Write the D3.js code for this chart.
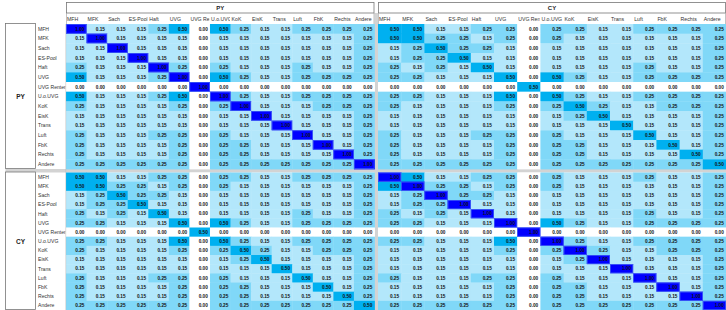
<!DOCTYPE html>
<html>
<head>
<meta charset="utf-8">
<script src="https://cdn.jsdelivr.net/npm/d3@7"></script>
<style>
  body { margin: 0; background: #fff; }
  svg { display: block; font-family: "Liberation Sans", Arial, sans-serif; }
</style>
</head>
<body>
<svg id="chart" width="726" height="310"></svg>
<script>
// categories (rows and columns, same order in both periods)
const categories = ["MFH", "MFK", "Sach", "ES-Pool", "Haft", "UVG", "UVG Renten", "U.o.UVG",
                    "KoK", "EisK", "Trans", "Luft", "FbK", "Rechts", "Andere"];
const periods = ["PY", "CY"];

// PY x PY block
const pyPy = [
  [1.00, 0.15, 0.15, 0.15, 0.25, 0.50, 0.00, 0.50, 0.25, 0.15, 0.15, 0.25, 0.25, 0.25, 0.25],
  [0.15, 1.00, 0.15, 0.15, 0.15, 0.15, 0.00, 0.15, 0.15, 0.15, 0.15, 0.15, 0.15, 0.15, 0.25],
  [0.15, 0.15, 1.00, 0.15, 0.15, 0.15, 0.00, 0.15, 0.15, 0.15, 0.15, 0.15, 0.15, 0.15, 0.25],
  [0.15, 0.15, 0.15, 1.00, 0.15, 0.15, 0.00, 0.15, 0.15, 0.15, 0.15, 0.15, 0.15, 0.15, 0.25],
  [0.25, 0.15, 0.15, 0.15, 1.00, 0.25, 0.00, 0.25, 0.15, 0.15, 0.15, 0.25, 0.15, 0.15, 0.25],
  [0.50, 0.15, 0.15, 0.15, 0.25, 1.00, 0.00, 0.50, 0.25, 0.15, 0.15, 0.25, 0.25, 0.25, 0.25],
  [0.00, 0.00, 0.00, 0.00, 0.00, 0.00, 1.00, 0.00, 0.00, 0.00, 0.00, 0.00, 0.00, 0.00, 0.00],
  [0.50, 0.15, 0.15, 0.15, 0.25, 0.50, 0.00, 1.00, 0.25, 0.15, 0.15, 0.25, 0.25, 0.25, 0.25],
  [0.25, 0.15, 0.15, 0.15, 0.15, 0.25, 0.00, 0.25, 1.00, 0.15, 0.15, 0.15, 0.25, 0.25, 0.25],
  [0.15, 0.15, 0.15, 0.15, 0.15, 0.15, 0.00, 0.15, 0.15, 1.00, 0.15, 0.15, 0.15, 0.15, 0.25],
  [0.15, 0.15, 0.15, 0.15, 0.15, 0.15, 0.00, 0.15, 0.15, 0.15, 1.00, 0.15, 0.15, 0.15, 0.25],
  [0.25, 0.15, 0.15, 0.15, 0.25, 0.25, 0.00, 0.25, 0.15, 0.15, 0.15, 1.00, 0.15, 0.15, 0.25],
  [0.25, 0.15, 0.15, 0.15, 0.15, 0.25, 0.00, 0.25, 0.25, 0.15, 0.15, 0.15, 1.00, 0.15, 0.25],
  [0.25, 0.15, 0.15, 0.15, 0.15, 0.25, 0.00, 0.25, 0.25, 0.15, 0.15, 0.15, 0.15, 1.00, 0.25],
  [0.25, 0.25, 0.25, 0.25, 0.25, 0.25, 0.00, 0.25, 0.25, 0.25, 0.25, 0.25, 0.25, 0.25, 1.00]
];

// PY rows x CY columns (the CY x PY block is its transpose)
const pyCy = [
  [0.50, 0.50, 0.15, 0.15, 0.25, 0.25, 0.00, 0.25, 0.25, 0.15, 0.15, 0.25, 0.25, 0.25, 0.25],
  [0.50, 0.50, 0.25, 0.25, 0.15, 0.25, 0.00, 0.25, 0.15, 0.15, 0.15, 0.15, 0.15, 0.15, 0.25],
  [0.15, 0.25, 0.50, 0.25, 0.25, 0.15, 0.00, 0.15, 0.15, 0.15, 0.15, 0.15, 0.15, 0.15, 0.25],
  [0.15, 0.25, 0.25, 0.50, 0.15, 0.15, 0.00, 0.15, 0.15, 0.15, 0.15, 0.15, 0.15, 0.15, 0.25],
  [0.25, 0.15, 0.25, 0.15, 0.50, 0.15, 0.00, 0.15, 0.15, 0.15, 0.15, 0.25, 0.15, 0.15, 0.25],
  [0.25, 0.25, 0.15, 0.15, 0.15, 0.50, 0.00, 0.50, 0.25, 0.15, 0.15, 0.25, 0.25, 0.25, 0.25],
  [0.00, 0.00, 0.00, 0.00, 0.00, 0.00, 0.50, 0.00, 0.00, 0.00, 0.00, 0.00, 0.00, 0.00, 0.00],
  [0.25, 0.25, 0.15, 0.15, 0.15, 0.50, 0.00, 0.50, 0.25, 0.15, 0.15, 0.25, 0.25, 0.25, 0.25],
  [0.25, 0.15, 0.15, 0.15, 0.15, 0.25, 0.00, 0.25, 0.50, 0.25, 0.15, 0.15, 0.25, 0.25, 0.25],
  [0.15, 0.15, 0.15, 0.15, 0.15, 0.15, 0.00, 0.15, 0.25, 0.50, 0.15, 0.15, 0.15, 0.15, 0.25],
  [0.15, 0.15, 0.15, 0.15, 0.15, 0.15, 0.00, 0.15, 0.15, 0.15, 0.50, 0.15, 0.15, 0.15, 0.25],
  [0.25, 0.15, 0.15, 0.15, 0.25, 0.25, 0.00, 0.25, 0.15, 0.15, 0.15, 0.50, 0.15, 0.15, 0.25],
  [0.25, 0.15, 0.15, 0.15, 0.15, 0.25, 0.00, 0.25, 0.25, 0.15, 0.15, 0.15, 0.50, 0.15, 0.25],
  [0.25, 0.15, 0.15, 0.15, 0.15, 0.25, 0.00, 0.25, 0.25, 0.15, 0.15, 0.15, 0.15, 0.50, 0.25],
  [0.25, 0.25, 0.25, 0.25, 0.25, 0.25, 0.00, 0.25, 0.25, 0.25, 0.25, 0.25, 0.25, 0.25, 0.50]
];

// CY x CY block
const cyCy = [
  [1.00, 0.50, 0.15, 0.15, 0.25, 0.25, 0.00, 0.25, 0.15, 0.15, 0.15, 0.25, 0.15, 0.15, 0.25],
  [0.50, 1.00, 0.25, 0.25, 0.15, 0.25, 0.00, 0.25, 0.15, 0.15, 0.15, 0.15, 0.15, 0.15, 0.25],
  [0.15, 0.25, 1.00, 0.25, 0.25, 0.15, 0.00, 0.15, 0.15, 0.15, 0.15, 0.15, 0.15, 0.15, 0.25],
  [0.15, 0.25, 0.25, 1.00, 0.15, 0.15, 0.00, 0.15, 0.15, 0.15, 0.15, 0.15, 0.15, 0.15, 0.25],
  [0.25, 0.15, 0.25, 0.15, 1.00, 0.15, 0.00, 0.15, 0.15, 0.15, 0.15, 0.25, 0.15, 0.15, 0.25],
  [0.25, 0.25, 0.15, 0.15, 0.15, 1.00, 0.00, 0.50, 0.25, 0.15, 0.15, 0.25, 0.25, 0.25, 0.25],
  [0.00, 0.00, 0.00, 0.00, 0.00, 0.00, 1.00, 0.00, 0.00, 0.00, 0.00, 0.00, 0.00, 0.00, 0.00],
  [0.25, 0.25, 0.15, 0.15, 0.15, 0.50, 0.00, 1.00, 0.25, 0.15, 0.15, 0.25, 0.25, 0.25, 0.25],
  [0.15, 0.15, 0.15, 0.15, 0.15, 0.25, 0.00, 0.25, 1.00, 0.25, 0.15, 0.15, 0.25, 0.25, 0.25],
  [0.15, 0.15, 0.15, 0.15, 0.15, 0.15, 0.00, 0.15, 0.25, 1.00, 0.15, 0.15, 0.15, 0.15, 0.25],
  [0.15, 0.15, 0.15, 0.15, 0.15, 0.15, 0.00, 0.15, 0.15, 0.15, 1.00, 0.15, 0.15, 0.15, 0.25],
  [0.25, 0.15, 0.15, 0.15, 0.25, 0.25, 0.00, 0.25, 0.15, 0.15, 0.15, 1.00, 0.15, 0.15, 0.25],
  [0.15, 0.15, 0.15, 0.15, 0.15, 0.25, 0.00, 0.25, 0.25, 0.15, 0.15, 0.15, 1.00, 0.15, 0.25],
  [0.15, 0.15, 0.15, 0.15, 0.15, 0.25, 0.00, 0.25, 0.25, 0.15, 0.15, 0.15, 0.15, 1.00, 0.25],
  [0.25, 0.25, 0.25, 0.25, 0.25, 0.25, 0.00, 0.25, 0.25, 0.25, 0.25, 0.25, 0.25, 0.25, 1.00]
];

const svg = d3.select("#chart");

// layout of the two column blocks and two row blocks
const colRange = { PY: [66, 374.5], CY: [378, 726] };
const rowRange = { PY: [24, 169], CY: [172.5, 310] };
const headerTop = 2.5, headerMid = 13;
const leftBox = { x0: 5.5, x1: 35.5 };
const labelX = 38;

const xScale = {}, yScale = {};
periods.forEach(p => {
  xScale[p] = d3.scaleBand().domain(categories).range(colRange[p]);
  yScale[p] = d3.scaleBand().domain(categories).range(rowRange[p]);
});

// white -> light blue -> blue, like the excel colour scale
const color = d3.scaleLinear().domain([0, 0.5, 1]).range(["#ffffff", "#00b0f0", "#0000ff"]);

const blocks = {
  "PY|PY": pyPy,
  "PY|CY": pyCy,
  "CY|PY": d3.transpose(pyCy),
  "CY|CY": cyCy
};

const cells = [];
periods.forEach(rp => periods.forEach(cp => {
  blocks[rp + "|" + cp].forEach((row, i) => row.forEach((v, j) => {
    cells.push({ rp, cp, row: categories[i], col: categories[j], value: v });
  }));
}));

const defs = svg.append("defs");

// gray separators between the period blocks
svg.append("rect")
  .attr("x", colRange.PY[1]).attr("y", headerMid)
  .attr("width", colRange.CY[0] - colRange.PY[1]).attr("height", 310 - headerMid)
  .attr("fill", "#d3d3d3");
svg.append("rect")
  .attr("x", leftBox.x0).attr("y", rowRange.PY[1])
  .attr("width", 726 - leftBox.x0).attr("height", rowRange.CY[0] - rowRange.PY[1])
  .attr("fill", "#d3d3d3");

// cells
const content = svg.append("g").attr("class", "content");

content.selectAll(".cell")
  .data(cells)
  .join("rect")
  .attr("class", "cell")
  .attr("x", d => xScale[d.cp](d.col))
  .attr("y", d => yScale[d.rp](d.row))
  .attr("width", d => xScale[d.cp].bandwidth() + 0.4)
  .attr("height", d => yScale[d.rp].bandwidth() + 0.4)
  .attr("fill", d => color(d.value));

// outline on the full correlation cells
content.selectAll(".diag")
  .data(cells.filter(d => d.value === 1))
  .join("rect")
  .attr("class", "diag")
  .attr("x", d => xScale[d.cp](d.col) + 0.4)
  .attr("y", d => yScale[d.rp](d.row) + 0.4)
  .attr("width", d => xScale[d.cp].bandwidth() - 0.8)
  .attr("height", d => yScale[d.rp].bandwidth() - 0.8)
  .attr("fill", "none")
  .attr("stroke", "#3d5cf5")
  .attr("stroke-width", 0.8);

content.selectAll(".val")
  .data(cells)
  .join("text")
  .attr("class", "val")
  .attr("x", d => xScale[d.cp](d.col) + xScale[d.cp].bandwidth() - 2.2)
  .attr("y", d => yScale[d.rp](d.row) + yScale[d.rp].bandwidth() / 2)
  .attr("dy", "0.36em")
  .attr("text-anchor", "end")
  .attr("font-size", 4.7)
  .attr("font-weight", "bold")
  .attr("fill", "#111")
  .text(d => d3.format(".2f")(d.value));

// column headers, clipped to their cell like in the spreadsheet
const colHeads = [];
periods.forEach(p => categories.forEach(c => colHeads.push({ p, c })));

defs.selectAll(".col-clip")
  .data(colHeads)
  .join("clipPath")
  .attr("class", "col-clip")
  .attr("id", (d, i) => "col-clip-" + i)
  .append("rect")
  .attr("x", d => xScale[d.p](d.c))
  .attr("y", headerMid)
  .attr("width", d => xScale[d.p].bandwidth() - 0.6)
  .attr("height", rowRange.PY[0] - headerMid);

svg.selectAll(".col-label")
  .data(colHeads)
  .join("text")
  .attr("class", "col-label")
  .attr("clip-path", (d, i) => "url(#col-clip-" + i + ")")
  .attr("x", d => xScale[d.p](d.c) + 1)
  .attr("y", 19)
  .attr("dy", "0.35em")
  .attr("font-size", 5.2)
  .attr("fill", "#333")
  .text(d => d.c);

// row labels
const rowHeads = [];
periods.forEach(p => categories.forEach(c => rowHeads.push({ p, c })));

defs.append("clipPath")
  .attr("id", "row-clip")
  .append("rect")
  .attr("x", leftBox.x1).attr("y", 0)
  .attr("width", colRange.PY[0] - leftBox.x1 - 0.5).attr("height", 310);

svg.selectAll(".row-label")
  .data(rowHeads)
  .join("text")
  .attr("class", "row-label")
  .attr("clip-path", "url(#row-clip)")
  .attr("x", labelX)
  .attr("y", d => yScale[d.p](d.c) + yScale[d.p].bandwidth() / 2)
  .attr("dy", "0.35em")
  .attr("font-size", 5.1)
  .attr("fill", "#333")
  .text(d => d.c);

// group header boxes on top
svg.selectAll(".group-box")
  .data(periods)
  .join("rect")
  .attr("class", "group-box")
  .attr("x", p => colRange[p][0] + 0.5)
  .attr("y", headerTop)
  .attr("width", p => colRange[p][1] - colRange[p][0] - 1)
  .attr("height", headerMid - headerTop)
  .attr("fill", "none")
  .attr("stroke", "#777")
  .attr("stroke-width", 0.8);

svg.selectAll(".group-label")
  .data(periods)
  .join("text")
  .attr("class", "group-label")
  .attr("x", p => (colRange[p][0] + colRange[p][1]) / 2)
  .attr("y", (headerTop + headerMid) / 2)
  .attr("dy", "0.35em")
  .attr("text-anchor", "middle")
  .attr("font-size", 6)
  .attr("font-weight", "bold")
  .attr("fill", "#222")
  .text(p => p);

// vertical lines from the group boxes down to the matrix
svg.selectAll(".group-edge")
  .data(periods.flatMap(p => [colRange[p][0] + 0.5, colRange[p][1] - 0.5]))
  .join("line")
  .attr("class", "group-edge")
  .attr("x1", d => d).attr("x2", d => d)
  .attr("y1", headerMid).attr("y2", rowRange.PY[0])
  .attr("stroke", "#999")
  .attr("stroke-width", 0.6);

// row group boxes on the left
svg.selectAll(".row-box")
  .data(periods)
  .join("rect")
  .attr("class", "row-box")
  .attr("x", leftBox.x0)
  .attr("y", p => rowRange[p][0] - 0.5)
  .attr("width", leftBox.x1 - leftBox.x0)
  .attr("height", p => rowRange[p][1] - rowRange[p][0])
  .attr("fill", "#fff")
  .attr("stroke", "#777")
  .attr("stroke-width", 0.8);

svg.selectAll(".row-group-label")
  .data(periods)
  .join("text")
  .attr("class", "row-group-label")
  .attr("x", (leftBox.x0 + leftBox.x1) / 2)
  .attr("y", p => (rowRange[p][0] + rowRange[p][1]) / 2)
  .attr("dy", "0.35em")
  .attr("text-anchor", "middle")
  .attr("font-size", 6.5)
  .attr("font-weight", "bold")
  .attr("fill", "#222")
  .text(p => p);

// thin line between row labels and matrix
svg.append("line")
  .attr("x1", colRange.PY[0] - 0.3).attr("x2", colRange.PY[0] - 0.3)
  .attr("y1", rowRange.PY[0]).attr("y2", 310)
  .attr("stroke", "#bbb")
  .attr("stroke-width", 0.5);
</script>
</body>
</html>
